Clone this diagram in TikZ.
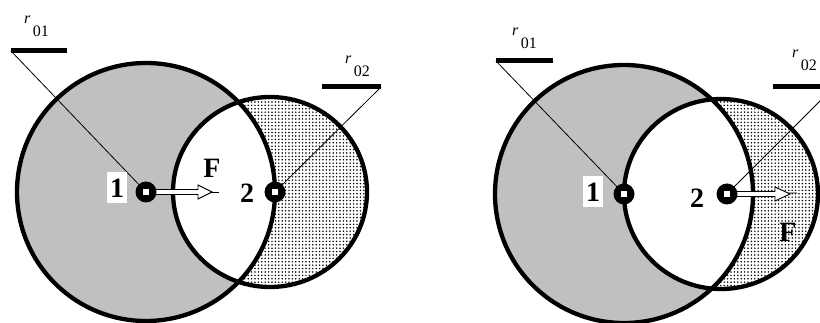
\documentclass[tikz,border=0pt]{standalone}
\usepackage{fontspec}
\setmainfont{Liberation Serif}
\usetikzlibrary{patterns.meta}
\definecolor{greyfill}{HTML}{C0C0C0}
\tikzset{
  ctr/.style={circle, fill=black, minimum size=21pt, inner sep=0pt},
  rim/.style={line width=4.3pt},
  lead/.style={line width=0.8pt},
  barline/.style={line width=5pt},
  big/.style={font=\fontsize{28}{28}\selectfont\bfseries, inner sep=0pt},
  rlab/.style={font=\fontsize{16}{16}\selectfont, inner sep=0pt, anchor=base west},
  numbox/.style={big, fill=white, minimum width=20pt, minimum height=31pt},
  dotfill/.style={pattern={Dots[radius=0.85pt,distance=3.4pt]}},
  arrowbody/.style={line width=0.9pt, fill=white},
}
\newcommand{\rlabel}[1]{\textit{r}\hspace{2.5pt}\raisebox{-13pt}{#1}}
\newcommand{\whitesq}{\textcolor{white}{\rule{6.5pt}{6.5pt}}}
\begin{document}
\begin{tikzpicture}[x=1pt,y=-1pt]
\useasboundingbox (0,0) rectangle (820,323);

% ---------------- left panel ----------------
\coordinate (c1) at (146,192);
\coordinate (c2) at (270,192);
\fill[dotfill] (c2) circle[x radius=97pt, y radius=95pt];
\fill[greyfill] (c1) circle[radius=129pt];
\begin{scope}
  \clip (c1) circle[radius=129pt];
  \fill[white] (c2) circle[x radius=97pt, y radius=95pt];
\end{scope}
\draw[rim] (c1) circle[radius=129pt];
\draw[rim] (c2) circle[x radius=97pt, y radius=95pt];

\coordinate (p1) at (146,192);
\coordinate (p2) at (275,192);
\coordinate (a1) at (11,51);
\coordinate (b1) at (67,51);
\coordinate (a2) at (381,87);
\coordinate (b2) at (322,87);
\draw[lead] (a1) -- (p1);
\draw[barline] (a1) -- (b1);
\draw[lead] (p2) -- (a2);
\draw[barline] (b2) -- (a2);

\coordinate (t1) at (219,192);
\draw[lead] (p1) -- (t1);
\draw[arrowbody] (p1) ++(0,-2.5) -- ++(52,0) -- ++(0,-4.5) -- ++(14,7)
  -- ++(-14,7) -- ++(0,-4.5) -- ++(-52,0) -- cycle;

\node[ctr] (m1) at (p1) {\whitesq};
\node[ctr] (m2) at (p2) {\whitesq};

\node[numbox] (n1) at (117,188) {1};
\node[big] (n2) at (247,193) {2};
\node[big] (f1) at (212,168) {F};
\node[rlab] (r1) at (24,24) {\rlabel{01}};
\node[rlab] (r2) at (345,64) {\rlabel{02}};

% ---------------- right panel ----------------
\coordinate (c3) at (624,194);
\coordinate (c4) at (721,194);
\fill[dotfill] (c4) circle[x radius=97pt, y radius=95pt];
\fill[greyfill] (c3) circle[radius=129pt];
\begin{scope}
  \clip (c3) circle[radius=129pt];
  \fill[white] (c4) circle[x radius=97pt, y radius=95pt];
\end{scope}
\draw[rim] (c3) circle[radius=129pt];
\draw[rim] (c4) circle[x radius=97pt, y radius=95pt];

\coordinate (p3) at (624,194);
\coordinate (p4) at (727,194);
\coordinate (a3) at (496,61);
\coordinate (b3) at (553,61);
\coordinate (a4) at (822,99);
\coordinate (b4) at (773,86.5);
\coordinate (e4) at (822,86.5);
\draw[lead] (a3) -- (p3);
\draw[barline] (a3) -- (b3);
\draw[lead] (p4) -- (a4);
\draw[barline] (b4) -- (e4);

\coordinate (t2) at (797,193);
\draw[lead] (p4) -- (t2);
\draw[arrowbody] (p4) ++(0,-2.5) -- ++(48,0) -- ++(0,-4.5) -- ++(15,7)
  -- ++(-15,7) -- ++(0,-4.5) -- ++(-48,0) -- cycle;

\node[ctr] (m3) at (p3) {\whitesq};
\node[ctr] (m4) at (p4) {\whitesq};

\node[numbox] (n3) at (593,192) {1};
\node[big] (n4) at (697,198) {2};
\node[big] (f2) at (788,232) {F};
\node[rlab] (r3) at (512,36) {\rlabel{01}};
\node[rlab] (r4) at (792,58) {\rlabel{02}};
\end{tikzpicture}
\end{document}
